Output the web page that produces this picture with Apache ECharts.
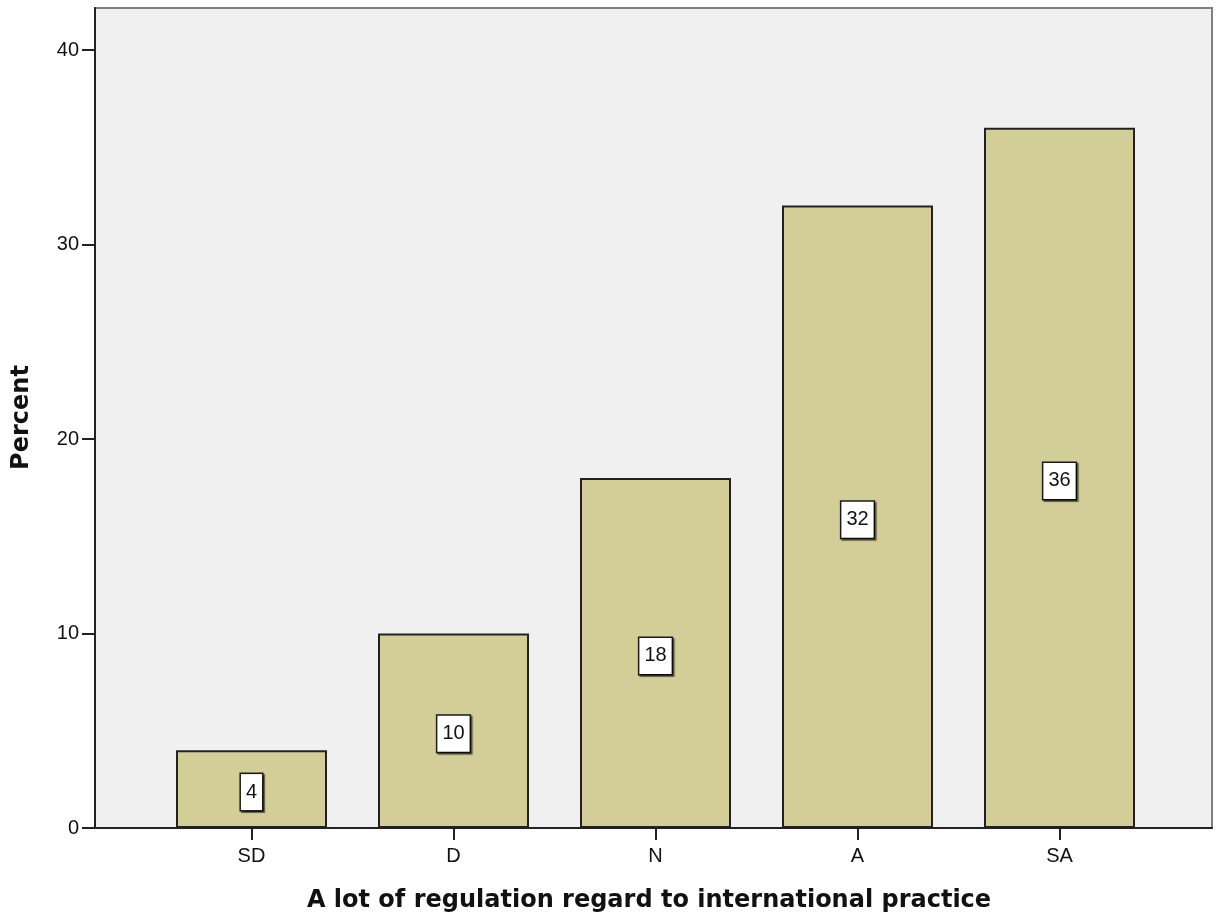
<!DOCTYPE html>
<html>
<head>
<meta charset="utf-8">
<script src="https://cdn.jsdelivr.net/npm/echarts@6/dist/echarts.min.js"></script>
<style>
  html, body { margin: 0; padding: 0; background: #fff; }
  #chart { width: 1216px; height: 921px; }
</style>
</head>
<body>
<div id="chart"></div>
<script>
// Response categories and their percentages
const categories = ['SD', 'D', 'N', 'A', 'SA'];
const percents = [4, 10, 18, 32, 36];
const yTicks = [0, 10, 20, 30, 40];
const xTitle = 'A lot of regulation regard to international practice';
const yTitle = 'Percent';

const Y_MAX = 42.16;
const chart = echarts.init(document.getElementById('chart'), null, { renderer: 'canvas' });

chart.setOption({
  animation: false,
  backgroundColor: '#ffffff',
  grid: [
    // framed plot area with the value axis
    { left: 95, right: 4, top: 8, bottom: 93, show: true,
      backgroundColor: '#f0f0f0', borderColor: '#808080', borderWidth: 2 },
    // narrower band that holds the bars
    { left: 150.5, width: 1010, top: 8, bottom: 93, show: false }
  ],
  xAxis: [
    { gridIndex: 0, type: 'value', min: 0, max: 1,
      axisLine: { show: true, lineStyle: { color: '#222', width: 2 } },
      axisTick: { show: false }, axisLabel: { show: false }, splitLine: { show: false } },
    { gridIndex: 1, type: 'category', data: categories, boundaryGap: true,
      axisLine: { show: false },
      axisTick: { show: true, alignWithLabel: true, length: 12, lineStyle: { color: '#222', width: 2 } },
      axisLabel: { fontFamily: 'Liberation Sans', fontSize: 20, color: '#111', margin: 18 },
      splitLine: { show: false } }
  ],
  yAxis: [
    { gridIndex: 0, type: 'value', min: 0, max: Y_MAX, interval: 10,
      axisLine: { show: true, lineStyle: { color: '#222', width: 2 } },
      axisTick: { show: true, length: 13, customValues: yTicks, lineStyle: { color: '#222', width: 2 } },
      axisLabel: { customValues: yTicks, fontFamily: 'Liberation Sans', fontSize: 20, color: '#111', margin: 16 },
      splitLine: { show: false } },
    { gridIndex: 1, type: 'value', min: 0, max: Y_MAX, show: false }
  ],
  graphic: [
    { type: 'text', x: 649, y: 901,
      style: { text: xTitle, align: 'center', verticalAlign: 'middle',
        font: 'bold 24px "DejaVu Sans"', fill: '#111' } },
    { type: 'text', x: 21.5, y: 417.5, rotation: Math.PI / 2,
      style: { text: yTitle, align: 'center', verticalAlign: 'middle',
        font: 'bold 24px "DejaVu Sans"', fill: '#111' } }
  ],
  series: [{
    type: 'bar',
    xAxisIndex: 1, yAxisIndex: 1,
    data: percents,
    barWidth: 151,
    itemStyle: { color: '#d3ce97', borderColor: '#222', borderWidth: 2 },
    label: {
      show: true, position: 'inside', offset: [0, 3],
      formatter: p => String(p.value),
      fontFamily: 'Liberation Sans', fontSize: 20, lineHeight: 20, color: '#111',
      backgroundColor: '#ffffff', borderColor: '#1a1a1a', borderWidth: 1.5,
      padding: [8, 5],
      shadowColor: 'rgba(0,0,0,0.55)', shadowOffsetX: 1.5, shadowOffsetY: 1.5, shadowBlur: 1
    }
  }]
});
</script>
</body>
</html>
